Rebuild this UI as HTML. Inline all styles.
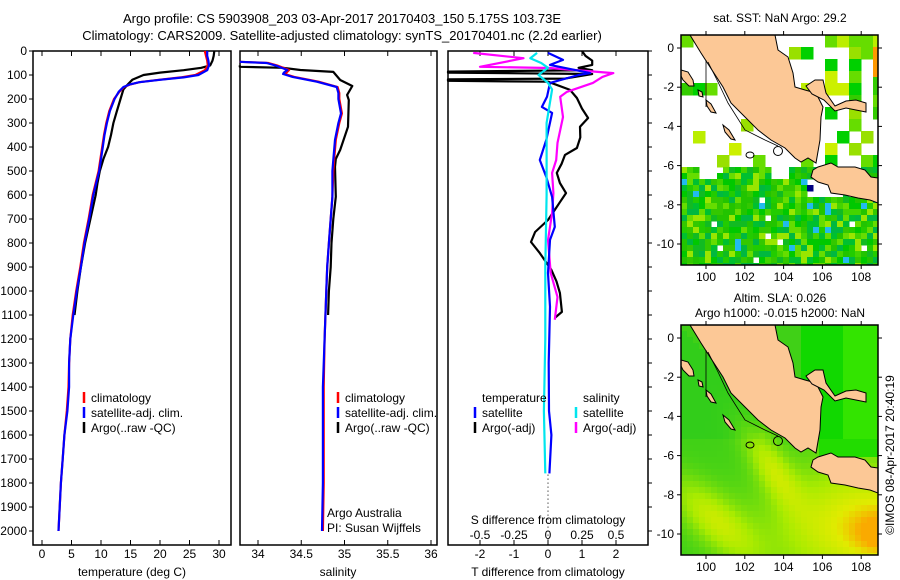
<!DOCTYPE html>
<html><head><meta charset="utf-8"><style>
html,body{margin:0;padding:0;background:#fff;}
svg{display:block;font-family:"Liberation Sans",sans-serif;}
text{fill:#000;font-size:12px;}
</style></head><body>
<svg id="fig" width="900" height="580" viewBox="0 0 900 580">
<text x="342" y="23" text-anchor="middle" style="font-size:13px">Argo profile: CS 5903908_203 03-Apr-2017 20170403_150 5.175S 103.73E</text>
<text x="342" y="40" text-anchor="middle" style="font-size:13px">Climatology: CARS2009. Satellite-adjusted climatology: synTS_20170401.nc (2.2d earlier)</text>
<g id="p1"></g>
<g id="p2"></g>
<g id="p3"></g>
<g id="m1"></g>
<g id="m2"></g>
<text x="780" y="22" text-anchor="middle">sat. SST: NaN Argo: 29.2</text>
<text x="780" y="302" text-anchor="middle">Altim. SLA: 0.026</text>
<text x="780" y="317" text-anchor="middle">Argo h1000: -0.015 h2000: NaN</text>
<text transform="translate(894,455) rotate(-90)" text-anchor="middle">©IMOS 08-Apr-2017 20:40:19</text>
</svg>
<script>
// ---------- data ----------
const depthTicks = [0,100,200,300,400,500,600,700,800,900,1000,1100,1200,1300,1400,1500,1600,1700,1800,1900,2000];
const tempTicks = [0,5,10,15,20,25,30];
const salTicks = [34,34.5,35,35.5,36];
const salTickLabels = ["34","34.5","35","35.5","36"];
const tdiffTicks = [-2,-1,0,1,2];
const sdiffTicks = [-0.5,-0.25,0,0.25,0.5];

const climTDepth = [0,20,40,60,80,100,110,120,130,140,150,170,200,250,300,350,400,450,500,600,700,800,900,1000,1100,1200,1300,1400,1500,1600,1700,1800,1900,2000];
const climTRed   = [27.6,27.8,28.0,28.1,27.6,26.0,23.5,19.8,16.5,14.9,13.9,13.1,12.2,11.4,10.9,10.5,10.2,9.9,9.6,8.6,7.9,7.1,6.5,5.8,5.2,4.8,4.6,4.5,4.2,3.8,3.5,3.2,3.0,2.8];
const climTBlue  = [28.0,28.0,28.2,28.3,28.0,26.5,24.0,20.0,16.5,14.8,13.8,13.0,12.3,11.5,11.0,10.6,10.3,10.0,9.7,8.7,8.0,7.2,6.6,5.9,5.3,4.8,4.6,4.6,4.3,3.8,3.5,3.2,3.0,2.8];
const argoTDepth = [0,20,40,60,70,80,90,100,120,140,160,200,250,300,350,400,450,500,550,600,700,800,900,1000,1100];
const argoT      = [29.2,29.1,28.9,28.5,27.0,24.0,20.0,17.2,15.3,14.5,13.8,13.3,12.7,12.1,11.7,11.2,10.4,9.8,9.4,9.1,8.2,7.3,6.6,6.0,5.5];

const climSDepth = [45,50,60,79,90,96,108,128,150,175,200,260,300,370,454,500,607,700,800,900,1000,1200,1400,1600,1800,2000];
const climSRed   = [33.79,34.12,34.22,34.36,34.33,34.31,34.42,34.70,34.92,34.94,34.94,34.97,34.94,34.90,34.88,34.87,34.86,34.84,34.82,34.80,34.79,34.77,34.76,34.76,34.76,34.75];
const climSBlue  = [33.79,34.10,34.20,34.34,34.30,34.29,34.40,34.68,34.91,34.93,34.93,34.96,34.93,34.89,34.87,34.86,34.86,34.84,34.82,34.80,34.79,34.77,34.75,34.75,34.75,34.74];
const argoSDepth = [60,66,70,79,87,121,146,183,204,316,412,450,483,607,700,800,900,1000,1100];
const argoS      = [33.79,33.79,34.29,34.49,34.87,34.95,35.09,35.03,35.05,35.04,34.95,34.90,34.89,34.90,34.87,34.85,34.84,34.82,34.81];

const dTArgoDepth = [0,20,40,58,70,80,86,90,96,115,118,124,128,162,196,240,279,316,360,404,433,470,508,550,592,630,662,704,754,796,842,912,960,1008,1087,1112];
const dTArgo      = [1.0,1.1,1.3,1.3,0.9,1.3,-2.94,-2.94,1.3,0.5,-2.94,-2.94,0.0,0.65,0.85,1.0,1.18,0.94,0.95,0.85,0.5,0.4,0.26,0.35,0.53,0.35,0.2,0.0,-0.38,-0.5,-0.24,0.1,0.25,0.35,0.41,0.2];
const dSArgoDepth = [8,30,66,71,92,108,133,170,191,275,383,454,508,592,675,787,925,1025,1120];
const dSArgo      = [-0.55,-0.18,-0.5,0.01,0.48,0.4,0.33,0.14,0.09,0.11,0.07,0.06,0.03,0.04,0.03,0.0,0.02,0.07,0.05];
const dTSatDepth = [8,37,58,92,100,133,191,233,258,370,454,525,608,733,787,925,1066,1300,1500,1600,1760];
const dTSat      = [0.0,0.44,0.06,1.24,0.9,0.06,-0.03,-0.18,0.12,-0.05,-0.24,-0.05,0.12,0.2,0.06,0.0,0.06,0.02,0.03,0.1,0.04];
const dSSatDepth = [8,30,50,70,100,133,160,300,600,900,1200,1500,1760];
const dSSat      = [-0.08,-0.13,-0.05,0.0,-0.07,0.0,0.03,-0.01,-0.01,-0.02,-0.02,-0.03,-0.02];

// ---------- helpers ----------
const NS = "http://www.w3.org/2000/svg";
function mk(parent, tag, attrs, txt){
  const e = document.createElementNS(NS, tag);
  for (const k in attrs) e.setAttribute(k, attrs[k]);
  if (txt !== undefined) e.textContent = txt;
  parent.appendChild(e);
  return e;
}
const TOP = 51, BOT = 545;
const yD = d => TOP + d * 0.24;
const xT = t => 42 + t * 5.9;
const xS = s => 258 + (s - 34) * 86.5;
const xDT = v => 548 + v * 34;
const xDS = v => 548 + v * 136;

function profile(g, depths, vals, xf, color, name){
  const pts = depths.map((d,i) => xf(vals[i]).toFixed(1) + "," + yD(d).toFixed(1)).join(" ");
  const p = mk(g, "polyline", {points: pts, fill: "none", stroke: color, "stroke-width": 2.2, "stroke-linejoin": "round"});
  
  
}
function frame(g, x0, x1, name){
  const r = mk(g, "rect", {x: x0, y: TOP, width: x1 - x0, height: BOT - TOP, fill: "none", stroke: "#000", "stroke-width": 1.5});
  
  
}
function xAxis(g, ticks, labels, xf, ly, name){
  ticks.forEach((t,i) => {
    const x = xf(t);
    mk(g, "line", {x1: x, x2: x, y1: TOP, y2: TOP + 5, stroke: "#000"});
    mk(g, "line", {x1: x, x2: x, y1: BOT, y2: BOT - 5, stroke: "#000"});
    const tx = mk(g, "text", {x: x, y: ly, "text-anchor": "middle"}, labels[i]);
    
    
  });
}
function legendEntry(g, x, y, color, label, name){
  mk(g, "line", {x1: x, x2: x, y1: y - 10, y2: y + 1, stroke: color, "stroke-width": 2.5});
  const t = mk(g, "text", {x: x + 7, y: y}, label);
  
  
}

// ---------- panel 1 temperature ----------
const p1 = document.getElementById("p1");
frame(p1, 33, 231, "temperature-plot-frame");
depthTicks.forEach(d => {
  mk(p1, "line", {x1: 29, x2: 33, y1: yD(d), y2: yD(d), stroke: "#000"});
  const t = mk(p1, "text", {x: 27, y: yD(d) + 4, "text-anchor": "end"}, String(d));
  
  
});
xAxis(p1, tempTicks, tempTicks.map(String), xT, 558, "temperature");
mk(p1, "text", {x: 132, y: 576, "text-anchor": "middle"}, "temperature (deg C)");
profile(p1, argoTDepth, argoT, xT, "#000", "argo-temperature-line");
profile(p1, climTDepth, climTRed, xT, "#ff0000", "climatology-temperature-line");
profile(p1, climTDepth, climTBlue, xT, "#0000ff", "satellite-temperature-line");
legendEntry(p1, 84, 402, "#ff0000", "climatology", "legend-climatology");
legendEntry(p1, 84, 417, "#0000ff", "satellite-adj. clim.", "legend-satellite");
legendEntry(p1, 84, 432, "#000", "Argo(..raw -QC)", "legend-argo");

// ---------- panel 2 salinity ----------
const p2 = document.getElementById("p2");
frame(p2, 240, 437, "salinity-plot-frame");
xAxis(p2, salTicks, salTickLabels, xS, 558, "salinity");
mk(p2, "text", {x: 338, y: 576, "text-anchor": "middle"}, "salinity");
profile(p2, argoSDepth, argoS, xS, "#000", "argo-salinity-line");
profile(p2, climSDepth, climSRed, xS, "#ff0000", "climatology-salinity-line");
profile(p2, climSDepth, climSBlue, xS, "#0000ff", "satellite-salinity-line");
legendEntry(p2, 338, 402, "#ff0000", "climatology", "legend-climatology");
legendEntry(p2, 338, 417, "#0000ff", "satellite-adj. clim.", "legend-satellite");
legendEntry(p2, 338, 432, "#000", "Argo(..raw -QC)", "legend-argo");
mk(p2, "text", {x: 327, y: 517}, "Argo Australia");
mk(p2, "text", {x: 327, y: 532}, "PI: Susan Wijffels");

// ---------- panel 3 differences ----------
const p3 = document.getElementById("p3");
frame(p3, 448, 648, "difference-plot-frame");
depthTicks.forEach(d => mk(p3, "line", {x1: 648, x2: 652, y1: yD(d), y2: yD(d), stroke: "#000"}));
xAxis(p3, tdiffTicks, tdiffTicks.map(String), xDT, 558, "t-difference");
sdiffTicks.forEach((v,i) => {
  const t = mk(p3, "text", {x: xDS(v), y: 539, "text-anchor": "middle"}, String(v));
  
  
});
mk(p3, "text", {x: 548, y: 524, "text-anchor": "middle"}, "S difference from climatology");
mk(p3, "text", {x: 548, y: 576, "text-anchor": "middle"}, "T difference from climatology");
mk(p3, "line", {x1: 548, x2: 548, y1: yD(1765), y2: BOT, stroke: "#000", "stroke-dasharray": "1,3"});
profile(p3, dTArgoDepth, dTArgo, xDT, "#000", "argo-t-difference-line");
profile(p3, dSArgoDepth, dSArgo, xDS, "#ff00ff", "argo-s-difference-line");
profile(p3, dTSatDepth, dTSat, xDT, "#0000ff", "satellite-t-difference-line");
profile(p3, dSSatDepth, dSSat, xDS, "#00e5ee", "satellite-s-difference-line");
mk(p3, "text", {x: 482, y: 402}, "temperature");
mk(p3, "text", {x: 583, y: 402}, "salinity");
legendEntry(p3, 475, 417, "#0000ff", "satellite", "legend-t-satellite");
legendEntry(p3, 475, 432, "#000", "Argo(-adj)", "legend-t-argo");
legendEntry(p3, 576, 417, "#00e5ee", "satellite", "legend-s-satellite");
legendEntry(p3, 576, 432, "#ff00ff", "Argo(-adj)", "legend-s-argo");

// ---------- maps ----------
const MX0 = 681, MX1 = 878;
const lonX = lon => 706 + (lon - 100) * 19.4;
const mapLons = [100,102,104,106,108];
const mapLats = [0,-2,-4,-6,-8,-10];
const sumatra = [[681,35],[690,35],[701,53],[710,67],[723,87],[731,103],[745,117],[758,130],[771,140],[785,148],[795,158],[801,162],[808,158],[816,163],[820,140],[821,117],[823,107],[816,93],[805,90],[795,87],[793,73],[788,57],[778,50],[775,35]];
const borneo = [[806,86],[815,80],[823,80],[826,93],[835,106],[846,101],[856,100],[866,103],[866,112],[846,108],[835,111],[824,100],[812,94]];
const java = [[813,170],[818,167],[831,163],[838,167],[855,167],[865,170],[871,177],[878,178],[878,203],[870,200],[858,198],[845,195],[831,193],[828,185],[818,182],[811,177]];
const islands = [[[681,70],[688,72],[693,80],[694,86],[689,86],[683,80],[681,76]],[[698,90],[702,92],[703,97],[699,96]],[[706,100],[711,104],[716,113],[711,112],[707,106]],[[723,125],[729,130],[735,140],[731,139],[725,132]]];
function hash(i,j){ let h = (i*374761393 + j*668265263) >>> 0; h = ((h ^ (h >>> 13)) * 1274126177) >>> 0; return (h % 1000) / 1000; }
function drawMap(g, off, y0, y1, cellFn, cs, id){
  const latY = lat => 48 + off - lat * 19.6;
  const clip = mk(g, "clipPath", {id: id});
  mk(clip, "rect", {x: MX0, y: y0, width: MX1 - MX0, height: y1 - y0});
  const cg = mk(g, "g", {"clip-path": "url(#" + id + ")"});
  mk(cg, "rect", {x: MX0, y: y0, width: MX1 - MX0, height: y1 - y0, fill: "#fff"});
  for (let j = 0; y0 + j*cs < y1; j++) for (let i = 0; MX0 + i*cs < MX1; i++) {
    const c = cellFn(i, j, MX0 + i*cs + cs/2, y0 + j*cs - off + cs/2);
    if (c) mk(cg, "rect", {x: MX0 + i*cs, y: y0 + j*cs, width: cs + 0.5, height: cs + 0.5, fill: c});
  }
  const shift = pts => pts.map(p => p[0] + "," + (p[1] + off)).join(" ");
  [sumatra, borneo, java].concat(islands).forEach(poly => {
    const pl = mk(cg, "polygon", {points: shift(poly), fill: "#fcc896", stroke: "#000", "stroke-width": 1});
    
    
  });
  mk(cg, "polyline", {points: shift([[706,107],[706,60]]), fill: "none", stroke: "#000", "stroke-width": 0.8});
  mk(cg, "polyline", {points: shift([[708,62],[718,82],[728,103],[745,130],[765,140],[778,146]]), fill: "none", stroke: "#000", "stroke-width": 0.8});
  mk(cg, "ellipse", {cx: 750, cy: 155 + off, rx: 4, ry: 3, fill: "none", stroke: "#000"});
  mk(cg, "ellipse", {cx: 778, cy: 151 + off, rx: 4.5, ry: 4.5, fill: "none", stroke: "#000"});
  const fr = mk(g, "rect", {x: MX0, y: y0, width: MX1 - MX0, height: y1 - y0, fill: "none", stroke: "#000", "stroke-width": 1.5});
  
  
  mapLats.forEach(lat => {
    const y = latY(lat);
    mk(g, "line", {x1: MX0 - 4, x2: MX0, y1: y, y2: y, stroke: "#000"});
    mk(g, "line", {x1: MX1, x2: MX1 + 4, y1: y, y2: y, stroke: "#000"});
    const t = mk(g, "text", {x: MX0 - 7, y: y + 4, "text-anchor": "end"}, String(lat));
    
    
  });
  mapLons.forEach(lon => {
    const x = lonX(lon);
    mk(g, "line", {x1: x, x2: x, y1: y1, y2: y1 + 4, stroke: "#000"});
    mk(g, "line", {x1: x, x2: x, y1: y0, y2: y0 - 4, stroke: "#000"});
    const t = mk(g, "text", {x: x, y: y1 + 16, "text-anchor": "middle"}, String(lon));
    
    
  });
}
const sstPal = ["#00c800","#22cc00","#11bb22","#44d400","#00c030","#66dd00","#33c800","#99e600","#00b840","#22c400"];
const upPal = ["#00d000","#66dd00","#bbee00","#ccf000","#99e000","#33cc00"];
drawMap(document.getElementById("m1"), 0, 35, 265, (i,j,x,y) => {
  if (x > 806 && x < 816 && y > 183 && y < 193) return "#000080";
  if (x > 870 && y > 45 && y < 78) return "#ff9900";
  if (y < 165) {
    const bi = Math.floor(i/2), bj = Math.floor(j/2);
    const h = hash(bi+11, bj+5);
    const right = x > 825;
    if (h > (right ? 0.55 : 0.18)) return null;
    return upPal[Math.floor(hash(bj,bi+2) * upPal.length)];
  }
  const h = hash(i,j);
  if (y < 200 && hash(Math.floor(i/3), Math.floor(j/3)+9) > 0.75) return null;
  if (h > 0.96) return null;
  if (h < 0.025) return "#22bbee";
  return sstPal[Math.floor(hash(j+7,i+3) * sstPal.length)];
}, 6, "clip-m1");
function slaColor(v){
  const stops = [[0,[30,200,30]],[0.5,[170,235,0]],[0.8,[225,235,0]],[1,[250,170,0]]];
  for (let k = 1; k < stops.length; k++) {
    if (v <= stops[k][0]) {
      const a = stops[k-1], b = stops[k], f = (v - a[0]) / (b[0] - a[0]);
      return "rgb(" + a[1].map((c,n) => Math.round(c + (b[1][n]-c)*f)).join(",") + ")";
    }
  }
  return "rgb(250,170,0)";
}
function blob(x,y,cx,cy,rx,ry,rot){
  const c = Math.cos(rot), s = Math.sin(rot);
  const dx = x - cx, dy = y - cy;
  const u = (dx*c + dy*s)/rx, w = (-dx*s + dy*c)/ry;
  return Math.exp(-(u*u + w*w));
}
drawMap(document.getElementById("m2"), 290, 325, 555, (i,j,x,y) => {
  if (x > 800 && y < 150) return x > 845 ? "#33e400" : "#11d800";
  if (x > 818 && y < 165) return "#22dc00";
  let v = 0.12;
  v += 0.5 * blob(x,y,715,230,55,22,0.75);
  v += 0.45 * blob(x,y,772,178,45,16,1.0);
  v += 0.75 * blob(x,y,870,235,95,60,0);
  v += 0.3 * blob(x,y,885,245,30,22,0);
  if (x < 760 && y < 150 && y > (x - 681) * 1.0 + 40) v -= 0.05;
  return slaColor(Math.max(0, Math.min(1, v)));
}, 6, "clip-m2");
</script>
</body></html>
